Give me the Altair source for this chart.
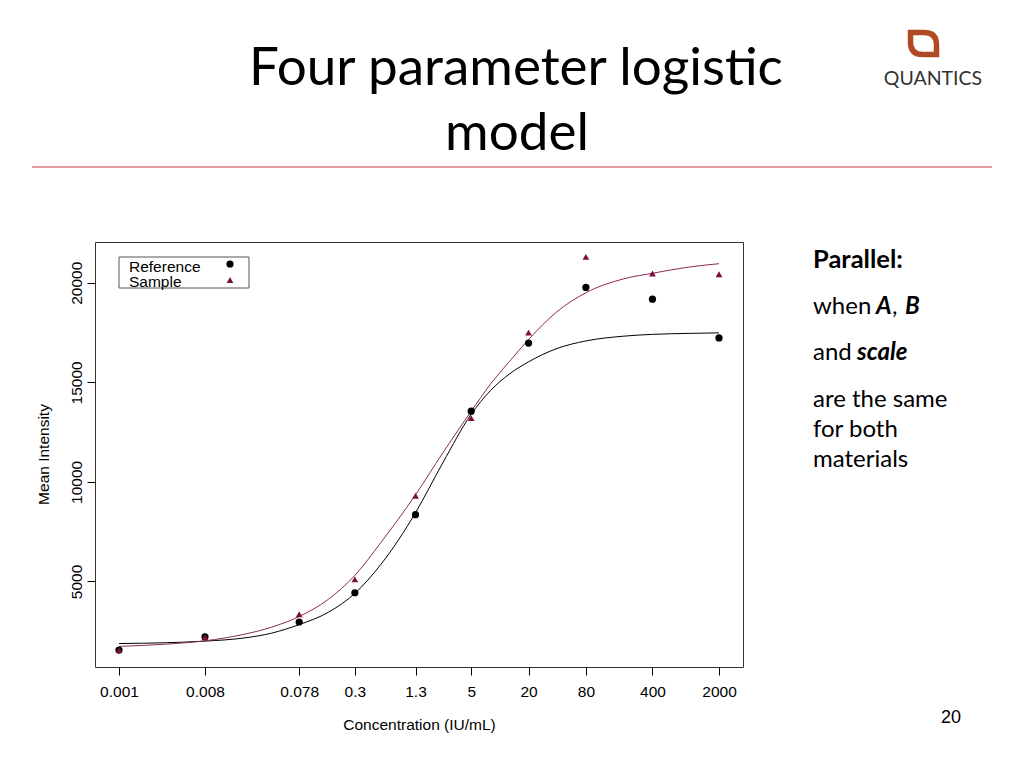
import altair as alt
import pandas as pd

# ---- data ----
conc = [0.001, 0.008, 0.078, 0.3, 1.3, 5, 20, 80, 400, 2000]
ref_mean = [1550, 2220, 2960, 4430, 8350, 13550, 16970, 19770, 19180, 17230]
sample_mean = [1550, 2200, 3350, 5100, 9300, 13200, 17500, 21300, 20470, 20430]

curve_conc = [0.001, 0.00316, 0.008, 0.02, 0.04, 0.078, 0.158, 0.3, 0.562, 1.3,
              2.51, 5, 7.94, 12.6, 20, 39.8, 80, 200, 400, 1000, 2000]
ref_fit = [1880, 1920, 2000, 2150, 2400, 2830, 3450, 4400, 5850, 8450,
           10950, 13400, 14580, 15420, 16030, 16700, 17080, 17320, 17410, 17460, 17485]
sample_fit = [1735, 1850, 2015, 2330, 2700, 3235, 4100, 5300, 6950, 9350,
              11450, 13550, 14900, 16050, 17150, 18550, 19500, 20200, 20480, 20800, 20960]

y_ticks = [5000, 10000, 15000, 20000]

ref_df = pd.DataFrame({"conc": conc, "value": ref_mean})
smp_df = pd.DataFrame({"conc": conc, "value": sample_mean})
ref_curve = pd.DataFrame({"conc": curve_conc, "value": ref_fit})
smp_curve = pd.DataFrame({"conc": curve_conc, "value": sample_fit})

AX_FONT = "Liberation Sans"
AX_SIZE = 15.5
MAROON = "#7b1040"
MAROON_LINE = "#8b2a55"

x_enc = alt.X(
    "conc:Q",
    scale=alt.Scale(type="log", domain=[0.00056, 3573], nice=False),
    axis=alt.Axis(
        values=conc, format="~g", labelOverlap=False, labelFlush=False,
        grid=False, domain=False, tickSize=8, tickColor="#000",
        labelFont=AX_FONT, labelFontSize=AX_SIZE, labelColor="#000", labelPadding=9,
        title="Concentration (IU/mL)", titleFont=AX_FONT, titleFontSize=AX_SIZE,
        titleFontWeight="normal", titleColor="#000", titleBaseline="alphabetic",
        titleY=62, titleX=324,
    ),
)
y_enc = alt.Y(
    "value:Q",
    scale=alt.Scale(domain=[700, 22050], nice=False, zero=False),
    axis=alt.Axis(
        values=y_ticks, format="d", grid=False, domain=False, tickSize=8, tickColor="#000",
        labelFont=AX_FONT, labelFontSize=AX_SIZE, labelColor="#000",
        labelAngle=270, labelAlign="center", labelBaseline="alphabetic", labelPadding=6,
        title="Mean Intensity", titleFont=AX_FONT, titleFontSize=AX_SIZE,
        titleFontWeight="normal", titleColor="#000", titleAngle=270,
        titleAlign="center", titleBaseline="alphabetic", titleX=-47, titleY=212,
    ),
)

ref_line = alt.Chart(ref_curve).mark_line(color="#000", strokeWidth=1, interpolate="monotone").encode(x=x_enc, y=y_enc)
smp_line = alt.Chart(smp_curve).mark_line(color=MAROON_LINE, strokeWidth=1, interpolate="monotone").encode(x=x_enc, y=y_enc)
ref_pts = alt.Chart(ref_df).mark_point(shape="circle", filled=True, color="#000", size=52, opacity=1).encode(x=x_enc, y=y_enc)
smp_pts = alt.Chart(smp_df).mark_point(shape="triangle-up", filled=True, color=MAROON, size=46, opacity=1).encode(x=x_enc, y=y_enc)

# ---- annotations (pixel placement relative to plot origin) ----
X0, Y0 = 95, 242
one = pd.DataFrame({"k": [0]})


def text(s, x, y, size, font="Lato", weight="normal", style="normal", align="left", color="#000"):
    return alt.Chart(one).mark_text(
        text=s, font=font, fontSize=size, fontWeight=weight, fontStyle=style,
        align=align, baseline="alphabetic", color=color,
    ).encode(x=alt.value(x - X0), y=alt.value(y - Y0))


legend_box = alt.Chart(one).mark_rect(fill="#fff", stroke="#555", strokeWidth=1).encode(
    x=alt.value(119 - X0), x2=alt.value(249 - X0), y=alt.value(257 - Y0), y2=alt.value(288 - Y0))
leg_circle = alt.Chart(one).mark_point(shape="circle", filled=True, color="#000", size=52, opacity=1).encode(
    x=alt.value(230 - X0), y=alt.value(264 - Y0))
leg_tri = alt.Chart(one).mark_point(shape="triangle-up", filled=True, color=MAROON, size=46, opacity=1).encode(
    x=alt.value(230 - X0), y=alt.value(280 - Y0))
leg_t1 = text("Reference", 129, 272, AX_SIZE, font=AX_FONT)
leg_t2 = text("Sample", 129, 287, AX_SIZE, font=AX_FONT)

title1 = text("Four parameter logistic", 516, 85, 53, align="center")
title2 = text("model", 517, 150, 53, align="center")
divider = alt.Chart(one).mark_rule(color="#d87878", strokeWidth=1.5).encode(
    x=alt.value(32 - X0), x2=alt.value(992 - X0), y=alt.value(167 - Y0))

leaf_path = "M -1 -0.85 L 0.05 -0.85 Q 1 -0.85 1 0.1 L 1 0.85 L -0.05 0.85 Q -1 0.85 -1 -0.1 Z"
logo_leaf = alt.Chart(one).mark_point(shape=leaf_path, filled=False, stroke="#b04a25", strokeWidth=5.5,
                                      size=676, opacity=1).encode(
    x=alt.value(923.5 - X0), y=alt.value(43.5 - Y0))
logo_text = text("QUANTICS", 933, 85, 19.5, align="center", color="#333")

SIDE = 24
side = [
    text("Parallel:", 813, 268, 25.5, weight="bold"),
    text("when", 813, 314, SIDE),
    text("A", 876, 314, SIDE, weight="bold", style="italic"),
    text(",", 892, 314, SIDE),
    text("B", 905, 314, SIDE, weight="bold", style="italic"),
    text("and", 813, 360, SIDE),
    text("scale", 857, 360, SIDE, weight="bold", style="italic"),
    text("are the same", 813, 407, SIDE),
    text("for both", 813, 437, SIDE),
    text("materials", 813, 467, SIDE),
]
page_no = text("20", 951, 723, 18, font=AX_FONT, align="center")

chart = alt.layer(
    ref_line, smp_line, ref_pts, smp_pts,
    legend_box, leg_circle, leg_tri, leg_t1, leg_t2,
    title1, title2, divider, logo_leaf, logo_text, page_no, *side,
).properties(
    width=648, height=425,
    padding={"left": 87, "top": 234, "right": 265, "bottom": 80},
    autosize=alt.AutoSizeParams(type="none"),
    background="#ffffff",
).configure_view(stroke="#333", strokeWidth=1)

chart.save("out.html", embed_options={"renderer": "svg", "actions": False})
